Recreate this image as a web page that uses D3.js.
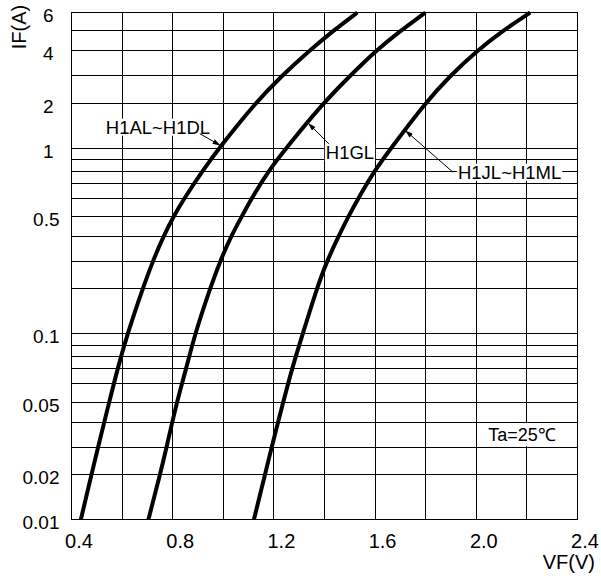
<!DOCTYPE html>
<html>
<head>
<meta charset="utf-8">
<script src="https://cdn.jsdelivr.net/npm/d3@7/dist/d3.min.js"></script>
<style>
  body { margin: 0; background: #fff; }
  svg { display: block; font-family: "Liberation Sans", Arial, sans-serif; }
</style>
</head>
<body>
<div id="chart"></div>
<script>
// forward current (A) where each curve was read
var currents = [0.01, 0.02, 0.03, 0.05, 0.07, 0.1, 0.2, 0.3, 0.4, 0.5, 0.6, 0.8, 1, 2, 3, 4, 5, 6];
// forward voltage (V) of each series at those currents
var vfAtoD = [0.437, 0.479, 0.505, 0.549, 0.582, 0.621, 0.681, 0.721, 0.763, 0.803, 0.846, 0.917, 0.983, 1.125, 1.231, 1.339, 1.434, 1.530];
var vfG    = [0.704, 0.750, 0.776, 0.816, 0.853, 0.888, 0.947, 0.987, 1.030, 1.073, 1.112, 1.178, 1.248, 1.394, 1.501, 1.602, 1.700, 1.799];
var vfJtoM = [1.121, 1.165, 1.191, 1.237, 1.271, 1.314, 1.369, 1.409, 1.455, 1.494, 1.534, 1.596, 1.663, 1.797, 1.896, 2.002, 2.104, 2.213];
var seriesNames = ["H1AL~H1DL", "H1GL", "H1JL~H1ML"];

var xGrid = [0.4, 0.6, 0.8, 1.0, 1.2, 1.4, 1.6, 1.8, 2.0, 2.2, 2.4];
var xTickLabels = [0.4, 0.8, 1.2, 1.6, 2.0, 2.4];
var yGrid = [0.01, 0.02, 0.03, 0.04, 0.05, 0.06, 0.07, 0.08, 0.09,
             0.1, 0.2, 0.3, 0.4, 0.5, 0.6, 0.7, 0.8, 0.9,
             1, 2, 3, 4, 5, 6];
var yTickLabels = [0.01, 0.02, 0.05, 0.1, 0.5, 1, 2, 4, 6];

var w = 601, h = 576;
var pLeft = 71.5, pRight = 577.5, pTop = 12.5, pBottom = 519.5;

var svg = d3.select("#chart").append("svg")
    .attr("width", w)
    .attr("height", h);

var x = d3.scaleLinear().domain([0.4, 2.4]).range([pLeft, pRight]);

// the printed log paper is not a true log grid; warp mantissa inside each decade
var warp = d3.scaleLinear()
    .domain([1, 2, 3, 4, 5, 6, 7, 8, 9, 10].map(Math.log10))
    .range([0, 0.242, 0.390, 0.524, 0.632, 0.731, 0.811, 0.876, 0.937, 1]);
function dec(v) {
    var l = Math.log10(v);
    var e = Math.floor(l + 1e-9);
    return e + warp(l - e);
}
var yLin = d3.scaleLinear().domain([dec(0.01), dec(6)]).range([pBottom, pTop]);
function y(v) { return yLin(dec(v)); }

// grid
var grid = svg.append("g")
    .attr("stroke", "#000")
    .attr("stroke-width", 1)
    .attr("shape-rendering", "crispEdges");
grid.selectAll("line.v")
    .data(xGrid)
    .enter().append("line")
    .attr("class", "v")
    .attr("x1", function(d) { return x(d); })
    .attr("x2", function(d) { return x(d); })
    .attr("y1", pTop)
    .attr("y2", pBottom);
grid.selectAll("line.h")
    .data(yGrid)
    .enter().append("line")
    .attr("class", "h")
    .attr("x1", pLeft)
    .attr("x2", pRight)
    .attr("y1", function(d) { return y(d); })
    .attr("y2", function(d) { return y(d); });

// tick labels
var xAxis = svg.append("g")
    .attr("transform", "translate(7," + pBottom + ")")
    .call(d3.axisBottom(x).tickValues(xTickLabels).tickSize(0).tickPadding(14)
        .tickFormat(d3.format(".1f")));
xAxis.select(".domain").remove();
xAxis.selectAll("text").attr("font-size", 20).attr("font-family", null).attr("fill", "#000");

var yAxis = svg.append("g")
    .attr("transform", "translate(" + pLeft + ",0)")
    .call(d3.axisLeft(yLin).tickValues(yTickLabels.map(dec)).tickSize(0).tickPadding(12)
        .tickFormat(function(d, i) { return String(yTickLabels[i]); }));
yAxis.select(".domain").remove();
yAxis.selectAll("text")
    .attr("font-size", 19)
    .attr("font-family", null)
    .attr("fill", "#000")
    .attr("dy", "0.47em")
    .attr("dx", function(d, i) { return yTickLabels[i] >= 1 ? -6 : 0; });

svg.append("text")
    .attr("transform", "translate(25.5,27) rotate(-90)")
    .attr("text-anchor", "middle")
    .attr("font-size", 20)
    .text("IF(A)");
svg.append("text")
    .attr("x", 595)
    .attr("y", 569)
    .attr("text-anchor", "end")
    .attr("font-size", 20)
    .text("VF(V)");

// curves
var series = [vfAtoD, vfG, vfJtoM];
var line = d3.line()
    .x(function(d) { return x(d[0]); })
    .y(function(d) { return y(d[1]); })
    .curve(d3.curveBasis);
svg.append("g").selectAll("path")
    .data(series)
    .enter().append("path")
    .attr("fill", "none")
    .attr("stroke", "#000")
    .attr("stroke-width", 4)
    .attr("d", function(vs) {
        return line(vs.map(function(v, i) { return [v, currents[i]]; }));
    });

// arrow head for the leaders
svg.append("defs").append("marker")
    .attr("id", "arr")
    .attr("markerUnits", "userSpaceOnUse")
    .attr("viewBox", "0 0 10 6")
    .attr("refX", 10).attr("refY", 3)
    .attr("markerWidth", 10).attr("markerHeight", 5)
    .attr("orient", "auto")
    .append("path")
    .attr("d", "M0,0L10,3L0,6Z")
    .attr("fill", "#000");

// labels: tip on curve (V, I), leader start and text offset in px
var notes = [
    { name: seriesNames[0], v: 0.99, i: 1.04, lx: -21, ly: -12, tx: -115, ty: -12 },
    { name: seriesNames[1], v: 1.334, i: 1.48, lx: 21, ly: 21, tx: 18, ty: 36.5 },
    { name: seriesNames[2], v: 1.718, i: 1.32, lx: 48, ly: 42, tx: 53, ty: 48.5 }
];
var ng = svg.append("g").selectAll("g")
    .data(notes)
    .enter().append("g");
ng.each(function(d) {
    var g = d3.select(this);
    var px = x(d.v), py = y(d.i);
    var t = g.append("text")
        .attr("x", px + d.tx)
        .attr("y", py + d.ty)
        .attr("font-size", 18.5)
        .text(d.name);
    var b = t.node().getBBox();
    g.insert("rect", "text")
        .attr("x", b.x - 1).attr("y", b.y + 2)
        .attr("width", b.width + 2).attr("height", b.height - 4)
        .attr("fill", "#fff");
    g.append("line")
        .attr("x1", px + d.lx).attr("y1", py + d.ly)
        .attr("x2", px).attr("y2", py)
        .attr("stroke", "#000")
        .attr("stroke-width", 1)
        .attr("marker-end", "url(#arr)");
});

// ambient temperature note
svg.append("rect")
    .attr("x", x(2.0) + 1)
    .attr("y", y(0.04) + 1)
    .attr("width", x(2.4) - x(2.0) - 2)
    .attr("height", y(0.03) - y(0.04) - 2)
    .attr("fill", "#fff");
svg.append("text")
    .attr("x", x(2.0) + 12)
    .attr("y", y(0.03) - 6)
    .attr("font-size", 18)
    .text("Ta=25\u2103");

// frame
svg.append("rect")
    .attr("x", pLeft).attr("y", pTop)
    .attr("width", pRight - pLeft).attr("height", pBottom - pTop)
    .attr("fill", "none")
    .attr("stroke", "#000")
    .attr("shape-rendering", "crispEdges");
</script>
</body>
</html>
